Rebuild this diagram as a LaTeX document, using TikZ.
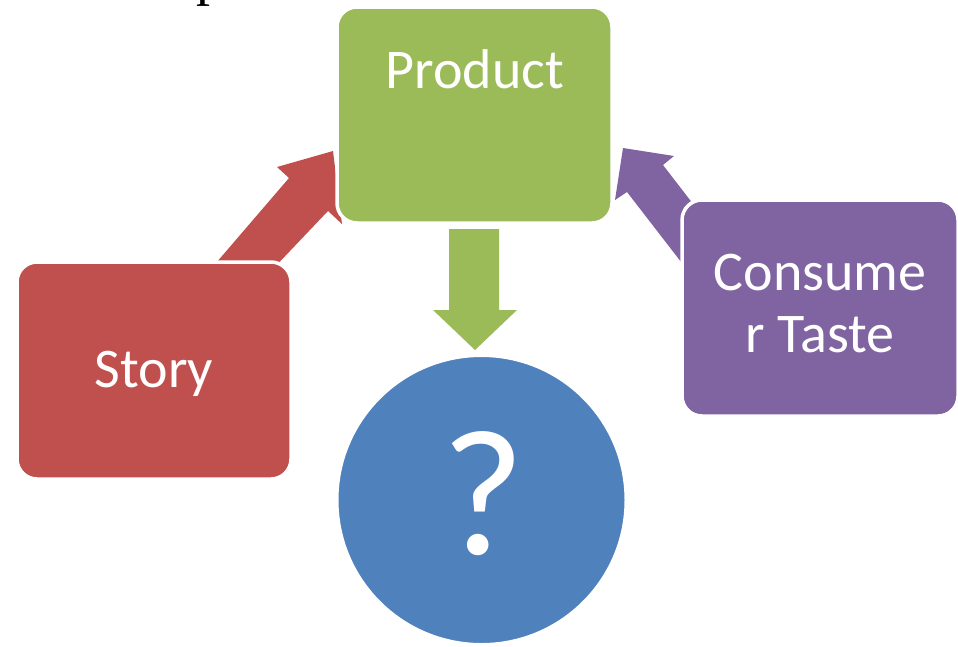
\documentclass[tikz,border=0pt]{standalone}
\usepackage{fontspec}
\setmainfont{Carlito}
\newfontfamily\serifpart{Liberation Serif}
\definecolor{prodgreen}{HTML}{9BBB59}
\definecolor{storyred}{HTML}{C0504D}
\definecolor{tastepurple}{HTML}{8064A2}
\definecolor{resultblue}{HTML}{4F81BD}
\begin{document}
\begin{tikzpicture}[x=1pt,y=-1pt,
  card/.style={rectangle, rounded corners=20pt, draw=white, line width=3.5pt,
    minimum width=275pt, minimum height=216pt, inner sep=0pt},
  bigtext/.style={text=white, inner sep=0pt, font=\fontsize{56}{62}\selectfont},
  blockarrow/.style={draw=none}]
\useasboundingbox (0,0) rectangle (958,646);

% fragment of a heading cut off by the top edge
\node[anchor=base west, inner sep=0pt, font=\serifpart\fontsize{56}{60}\selectfont] (heading) at (196,-6) {p};

% block arrows, drawn first so the cards cover their ends
\fill[storyred] (210,270) -- (289,178) -- (277,167) -- (333,151) -- (342,224) -- (328,211) -- (271,271) -- cycle;
\fill[tastepurple] (695,280) -- (627,192) -- (615,200) -- (623,148) -- (674,156) -- (663,165) -- (744,270) -- cycle;

% cards
\node[card, fill=prodgreen] (product) at (474.5,115) {};
\node[card, fill=storyred, minimum width=274pt, minimum height=217pt] (story) at (154,370.5) {};
\node[card, fill=tastepurple, minimum width=276pt] (taste) at (820,308) {};
\node[circle, fill=resultblue, draw=white, line width=3pt, minimum size=289pt, inner sep=0pt] (result) at (481.5,500) {};

% downward arrow from the product to the result
\fill[prodgreen] (449,229) -- (499,229) -- (499,310) -- (517,310) -- (475,350) -- (433,310) -- (449,310) -- cycle;

% labels
\node[bigtext, anchor=base] (producttext) at (475,88) {Product};
\node[bigtext, anchor=base] (storytext) at (154,387) {Story};
\node[bigtext, align=center, anchor=base] (tastetext) at (820,352) {Consume\\r Taste};
\node[text=white, inner sep=0pt, anchor=base, font=\fontsize{180}{180}\selectfont] (resulttext) at (483,554) {?};
\end{tikzpicture}
\end{document}
